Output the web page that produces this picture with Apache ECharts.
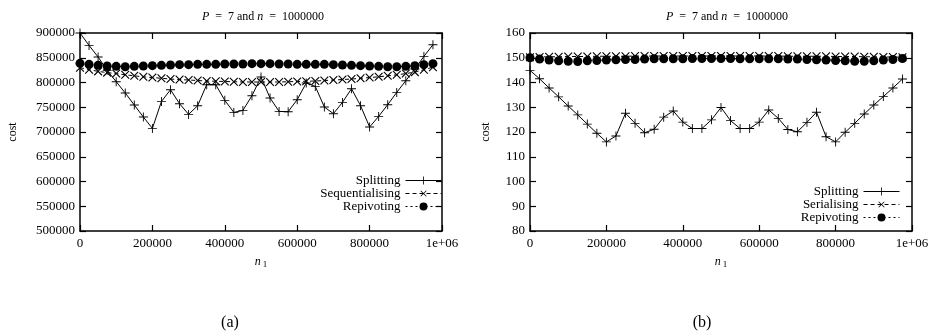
<!DOCTYPE html>
<html>
<head>
<meta charset="utf-8">
<script src="https://cdn.jsdelivr.net/npm/echarts@6/dist/echarts.min.js"></script>
<style>
    html, body { margin: 0; padding: 0; background: #fff; }
    #chart { width: 932px; height: 336px; }
</style>
</head>
<body>
<div id="chart"></div>
<script>
// n1 values (x)
var n1 = [0, 25000, 50000, 75000, 100000, 125000, 150000, 175000, 200000, 225000,
    250000, 275000, 300000, 325000, 350000, 375000, 400000, 425000, 450000, 475000,
    500000, 525000, 550000, 575000, 600000, 625000, 650000, 675000, 700000, 725000,
    750000, 775000, 800000, 825000, 850000, 875000, 900000, 925000, 950000, 975000];

// (a)
var splitA = [900000, 874900, 851500, 824500, 801600, 778800, 754500, 730300, 707300, 761800,
    785400, 757200, 735600, 753100, 795600, 795600, 763900, 739600, 743600, 773300,
    811100, 768700, 741600, 741000, 765300, 799000, 792100, 750500, 737000, 759800,
    787500, 753100, 710100, 731500, 755200, 780000, 803600, 827300, 852700, 876400];
var seqA = [830000, 826000, 822500, 820000, 818000, 815500, 813500, 811500, 810000, 808500,
    807000, 806000, 805000, 804000, 803000, 802500, 802000, 801500, 801000, 801000,
    801000, 801000, 801000, 801500, 802000, 802500, 803000, 804000, 805000, 806000,
    807000, 808500, 810000, 811500, 813500, 815500, 818000, 821000, 826000, 831000];
var repA = [838700, 836700, 834600, 833300, 832600, 831900, 832600, 833300, 834000, 834600,
    835300, 836000, 836000, 836700, 836700, 836700, 837300, 837300, 837300, 838000,
    838000, 838000, 837300, 837300, 836700, 836700, 836700, 836700, 836000, 835300,
    834600, 834000, 833300, 832600, 831900, 831900, 832600, 834000, 836000, 838000];

// (b)
var splitB = [144.9, 141.5, 137.8, 134.2, 130.5, 126.9, 123.2, 119.5, 116, 118.4,
    127.6, 123.5, 119.7, 121.1, 126, 128.5, 124, 121.4, 121.4, 124.9,
    129.9, 124.6, 121.4, 121.4, 124, 128.9, 125.5, 121, 120.1, 123.9,
    128, 118.1, 116, 119.9, 123.5, 127.3, 130.9, 134.3, 137.8, 141.4];
var serB = [150.2, 150.3, 150.4, 150.4, 150.5, 150.5, 150.5, 150.6, 150.6, 150.6,
    150.6, 150.7, 150.7, 150.7, 150.7, 150.7, 150.7, 150.7, 150.7, 150.7,
    150.7, 150.7, 150.7, 150.7, 150.7, 150.7, 150.7, 150.6, 150.6, 150.6,
    150.6, 150.6, 150.5, 150.5, 150.5, 150.4, 150.4, 150.3, 150.3, 150.2];
var repB = [150, 149.5, 149.1, 148.8, 148.6, 148.5, 148.8, 148.9, 149.1, 149.2,
    149.3, 149.3, 149.5, 149.6, 149.6, 149.6, 149.6, 149.7, 149.7, 149.7,
    149.7, 149.7, 149.6, 149.6, 149.6, 149.6, 149.6, 149.5, 149.5, 149.3,
    149.2, 149.1, 148.9, 148.8, 148.6, 148.6, 148.8, 149.1, 149.3, 149.7];

var xTicks = [0, 200000, 400000, 600000, 800000, 1000000];
var yTicksA = [500000, 550000, 600000, 650000, 700000, 750000, 800000, 850000, 900000];
var yTicksB = [80, 90, 100, 110, 120, 130, 140, 150, 160];

var FONT = '"Liberation Serif", "DejaVu Serif", serif';
var PLUS = 'path://M4.5,0H5.5V4.5H10V5.5H5.5V10H4.5V5.5H0V4.5H4.5Z';

function pairs(xs, ys) {
    var out = [];
    for (var i = 0; i < xs.length; i++) out.push([xs[i], ys[i]]);
    return out;
}

function xAxisFor(grid, pos) {
    return {
        type: 'value', gridIndex: grid, position: pos,
        min: xTicks[0], max: xTicks[xTicks.length - 1], interval: xTicks[1] - xTicks[0],
        axisLine: { show: true, onZero: false, lineStyle: { color: '#000', width: 1.5 } },
        axisTick: { show: true, inside: true, length: 6, lineStyle: { color: '#000', width: 1.2 } },
        splitLine: { show: false },
        axisLabel: {
            show: pos === 'bottom', color: '#000', fontFamily: FONT, fontSize: 13, margin: 6,
            formatter: function (v) { return v === 1000000 ? '1e+06' : String(v); }
        },
        name: pos === 'bottom' ? '{i|n}{s|1}' : '',
        nameLocation: 'middle', nameGap: 23,
        nameTextStyle: {
            rich: {
                i: { fontFamily: FONT, fontStyle: 'italic', fontSize: 12, color: '#000' },
                s: { fontFamily: FONT, fontSize: 9, color: '#000', padding: [6, 0, 0, 2] }
            }
        }
    };
}

function yAxisFor(grid, pos, ticks, gap) {
    return {
        type: 'value', gridIndex: grid, position: pos,
        min: ticks[0], max: ticks[ticks.length - 1], interval: ticks[1] - ticks[0],
        axisLine: { show: true, onZero: false, lineStyle: { color: '#000', width: 1.5 } },
        axisTick: { show: true, inside: true, length: 6, lineStyle: { color: '#000', width: 1.2 } },
        splitLine: { show: false },
        axisLabel: {
            show: pos === 'left', color: '#000', fontFamily: FONT, fontSize: 13, margin: 5,
            formatter: function (v) { return String(v); }
        },
        name: pos === 'left' ? 'cost' : '',
        nameLocation: 'middle', nameGap: gap,
        nameTextStyle: { color: '#000', fontFamily: FONT, fontSize: 12 }
    };
}

function splitSeries(name, data, xi, yi) {
    return {
        name: name, type: 'line', xAxisIndex: xi, yAxisIndex: yi, data: data,
        symbol: PLUS, symbolSize: 9, showAllSymbol: true,
        lineStyle: { color: '#000', width: 1 },
        itemStyle: { color: '#000' }
    };
}

function seqSeries(name, data, xi, yi) {
    return {
        name: name, type: 'line', xAxisIndex: xi, yAxisIndex: yi, data: data,
        symbol: PLUS, symbolSize: 11, symbolRotate: 45, showAllSymbol: true,
        lineStyle: { color: '#000', width: 1, type: [4, 3] },
        itemStyle: { color: '#000' }
    };
}

function repSeries(name, data, xi, yi) {
    return {
        name: name, type: 'line', xAxisIndex: xi, yAxisIndex: yi, data: data,
        symbol: 'circle', symbolSize: 9, showAllSymbol: true,
        lineStyle: { color: '#000', width: 1, type: [2, 3] },
        itemStyle: { color: '#000' }
    };
}

function titleAt(x, y) {
    return {
        text: '{i|P}  =  7 and {i|n}  =  1000000',
        left: x, top: y, textAlign: 'center',
        textStyle: {
            fontFamily: FONT, fontSize: 12, fontWeight: 'normal', color: '#000',
            rich: { i: { fontFamily: FONT, fontStyle: 'italic', fontSize: 12, color: '#000' } }
        }
    };
}

function captionAt(x, text) {
    return {
        text: text, left: x, top: 310, textAlign: 'center',
        textStyle: { fontFamily: FONT, fontSize: 16, fontWeight: 'normal', color: '#000' }
    };
}

function legendAt(names, right, top) {
    return {
        data: names, orient: 'vertical', align: 'right',
        right: right, top: top, itemWidth: 36, itemHeight: 10, itemGap: 0, padding: 0,
        lineStyle: { width: 1, type: 'inherit' },
        textStyle: { fontFamily: FONT, fontSize: 13, color: '#000', lineHeight: 13 },
        selectedMode: false
    };
}

var myChart = echarts.init(document.getElementById('chart'));
var option = {
    backgroundColor: '#fff',
    animation: false,
    title: [titleAt(258, 6), titleAt(722, 6), captionAt(225, '(a)'), captionAt(697, '(b)')],
    legend: [
        legendAt(['Splitting', 'Sequentialising', 'Repivoting'], 490, 174),
        legendAt(['Splitting', 'Serialising', 'Repivoting'], 32, 185)
    ],
    grid: [
        { left: 80, right: 490, top: 33, bottom: 105 },
        { left: 530, right: 20, top: 33, bottom: 105 }
    ],
    xAxis: [xAxisFor(0, 'bottom'), xAxisFor(0, 'top'), xAxisFor(1, 'bottom'), xAxisFor(1, 'top')],
    yAxis: [yAxisFor(0, 'left', yTicksA, 61), yAxisFor(0, 'right', yTicksA, 0),
        yAxisFor(1, 'left', yTicksB, 38), yAxisFor(1, 'right', yTicksB, 0)],
    series: [
        splitSeries('Splitting', pairs(n1, splitA), 0, 0),
        seqSeries('Sequentialising', pairs(n1, seqA), 0, 0),
        repSeries('Repivoting', pairs(n1, repA), 0, 0),
        splitSeries('Splitting', pairs(n1, splitB), 2, 2),
        seqSeries('Serialising', pairs(n1, serB), 2, 2),
        repSeries('Repivoting', pairs(n1, repB), 2, 2)
    ]
};
myChart.setOption(option);
</script>
</body>
</html>
